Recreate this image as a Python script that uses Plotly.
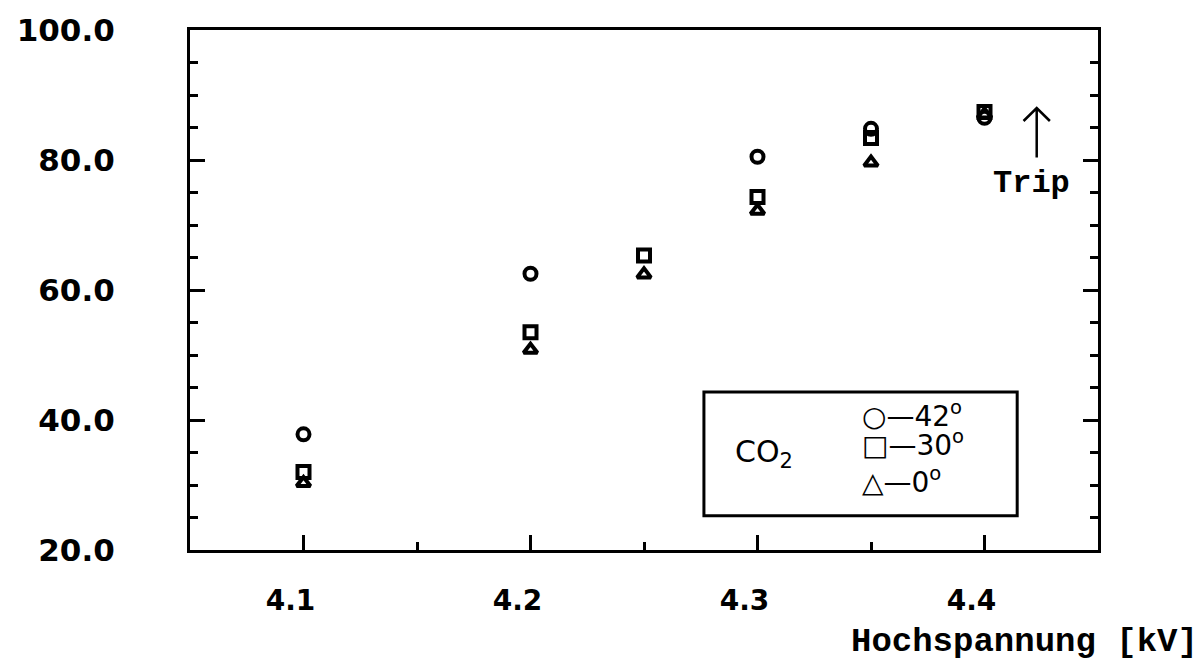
import plotly.graph_objects as go

# Hochspannung [kV] vs efficiency (%)
hv_42 = [4.10, 4.20, 4.30, 4.35, 4.40]
eff_42 = [37.8, 62.5, 80.5, 84.8, 86.5]

hv_30 = [4.10, 4.20, 4.25, 4.30, 4.35, 4.40]
eff_30 = [32.0, 53.5, 65.3, 74.3, 83.4, 87.4]

hv_0 = [4.10, 4.20, 4.25, 4.30, 4.35, 4.40]
eff_0 = [30.3, 50.8, 62.4, 72.2, 79.6, 87.0]

x_ticks = [4.1, 4.2, 4.3, 4.4]
x_tick_text = ["4.1", "4.2", "4.3", "4.4"]
y_ticks = [20, 40, 60, 80, 100]
y_tick_text = ["20.0", "40.0", "60.0", "80.0", "100.0"]

trip_x = 4.423
trip_y0, trip_y1 = 80.4, 88.0

fig = go.Figure()
mk = dict(color="rgba(0,0,0,0)", size=12, line=dict(color="black", width=4))
fig.add_trace(go.Scatter(x=hv_42, y=eff_42, mode="markers", name="42°",
                         marker=dict(symbol="circle", **mk)))
fig.add_trace(go.Scatter(x=hv_30, y=eff_30, mode="markers", name="30°",
                         marker=dict(symbol="square", **mk)))
fig.add_trace(go.Scatter(x=hv_0, y=eff_0, mode="markers", name="0°",
                         marker=dict(symbol="triangle-up", **mk)))

xtickfont = dict(family="DejaVu Sans", size=28, color="black", weight="bold")
ytickfont = dict(family="DejaVu Sans", size=31, color="black", weight="bold")

fig.update_xaxes(
    range=[4.05, 4.45], tickvals=x_ticks, ticktext=x_tick_text,
    ticks="inside", ticklen=15, tickwidth=2.5, tickcolor="black",
    showline=True, linewidth=3, linecolor="black", mirror=True,
    showgrid=False, zeroline=False, tickfont=xtickfont,
    ticklabelshift=-13, ticklabelstandoff=23,
    minor=dict(dtick=0.05, tick0=4.05, ticks="inside", ticklen=8, tickwidth=2.5,
               tickcolor="black", showgrid=False),
)
fig.update_yaxes(
    range=[20, 100], tickvals=y_ticks, ticktext=y_tick_text,
    ticks="inside", ticklen=15, tickwidth=2.5, tickcolor="black",
    showline=True, linewidth=3, linecolor="black", mirror="allticks",
    showgrid=False, zeroline=False, tickfont=ytickfont,
    ticklabelstandoff=66,
    minor=dict(dtick=5, tick0=0, ticks="inside", ticklen=8, tickwidth=2.5,
               tickcolor="black", showgrid=False),
)

# Trip arrow
hw = 0.0058
hh = 2.0
fig.add_shape(type="path", xref="x", yref="y",
              path=(f"M {trip_x},{trip_y0} L {trip_x},{trip_y1} "
                    f"M {trip_x-hw},{trip_y1-hh} L {trip_x},{trip_y1} L {trip_x+hw},{trip_y1-hh}"),
              line=dict(color="black", width=2.5))
fig.add_annotation(x=4.4205, y=76.4, xref="x", yref="y", text="Trip", showarrow=False,
                   font=dict(family="Liberation Mono", size=32, color="black", weight="bold"))

# Legend box
fig.add_shape(type="rect", xref="paper", yref="paper", x0=0.566, x1=0.911, y0=0.066, y1=0.304,
              line=dict(color="black", width=3), fillcolor="white", layer="below")
fig.add_annotation(x=0.632, y=0.145, xref="paper", yref="paper", text="CO<sub>2</sub>",
                   showarrow=False, font=dict(family="DejaVu Sans", size=30, color="black"))
leg_font = dict(family="DejaVu Sans", size=28, color="black")
for txt, yy in [("○—42<sup>o</sup>", 0.222), ("□—30<sup>o</sup>", 0.165), ("△—0<sup>o</sup>", 0.094)]:
    fig.add_annotation(x=0.738, y=yy, xref="paper", yref="paper", text=txt, showarrow=False,
                       xanchor="left", font=leg_font)

# axis title
fig.add_annotation(x=1.112, y=-0.176, xref="paper", yref="paper", text="Hochspannung [kV]",
                   showarrow=False, xanchor="right", yanchor="middle",
                   font=dict(family="Liberation Mono", size=34, color="black", weight="bold"))

fig.update_layout(
    width=1204, height=666,
    margin=dict(l=190, r=106, t=23, b=116),
    plot_bgcolor="white", paper_bgcolor="white",
    showlegend=False,
)
fig.write_html("out.html")
